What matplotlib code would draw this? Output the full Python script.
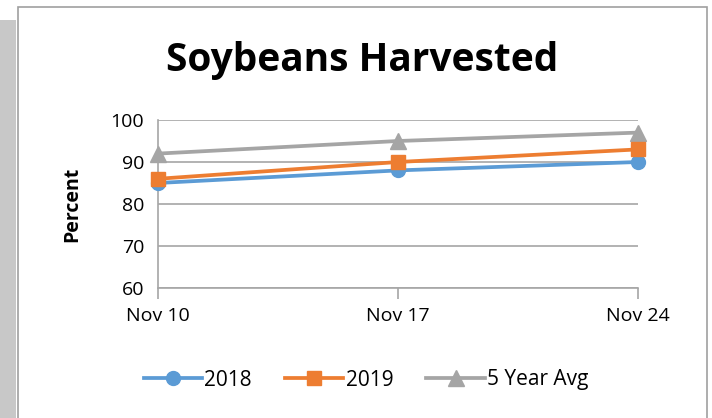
import matplotlib.pyplot as plt
from matplotlib.patches import Rectangle

weeks = ['Nov 10', 'Nov 17', 'Nov 24']
y2018 = [85, 88, 90]
y2019 = [86, 90, 93]
avg5 = [92, 95, 97]

plt.rcParams['font.family'] = ['Open Sans', 'DejaVu Sans']

fig = plt.figure(figsize=(7.12, 4.18), dpi=100)
# grey strip on the left and the chart box
fig.patches.append(Rectangle((0, 0), 16 / 712, 398 / 418, transform=fig.transFigure,
                             facecolor='#c8c8c8', edgecolor='none', zorder=-2))
fig.patches.append(Rectangle((18 / 712, -0.01), 689 / 712, 1 - 7 / 418 + 0.01, transform=fig.transFigure,
                             facecolor='white', edgecolor='#a0a0a0', linewidth=1.2, zorder=-1))

ax = fig.add_axes([158 / 712, 1 - 288 / 418, 480 / 712, 168 / 418])
ax.set_facecolor('none')
x = range(len(weeks))
ax.plot(x, y2018, color='#5B9BD5', lw=2.7, marker='o', ms=10, label='2018', clip_on=False, zorder=3)
ax.plot(x, y2019, color='#ED7D31', lw=2.7, marker='s', ms=10, label='2019', clip_on=False, zorder=4)
ax.plot(x, avg5, color='#A5A5A5', lw=2.7, marker='^', ms=11, label='5 Year Avg', clip_on=False, zorder=2)

ax.set_xlim(0, 2)
ax.set_ylim(60, 100)
ax.set_yticks([60, 70, 80, 90, 100])
ax.set_xticks(list(x))
ax.set_xticklabels(weeks)
ax.yaxis.grid(True, color='#a6a6a6', lw=1.2)
ax.set_axisbelow(True)
for s in ['top', 'right']:
    ax.spines[s].set_visible(False)
ax.spines['left'].set_color('#a6a6a6')
ax.spines['bottom'].set_color('#a6a6a6')
ax.spines['left'].set_linewidth(1.2)
ax.spines['bottom'].set_linewidth(1.2)
ax.tick_params(axis='y', length=0, pad=10, labelsize=14)
ax.tick_params(axis='x', length=8, color='#a6a6a6', width=1.2, pad=6, labelsize=14)
ax.set_ylabel('Percent', fontsize=14, fontweight='bold', labelpad=20)

fig.text(362 / 712, 1 - 60 / 418, 'Soybeans Harvested', ha='center', va='center',
         fontsize=28, fontweight='bold')

fig.legend(loc='center', bbox_to_anchor=(366 / 712, 1 - 380 / 418), ncol=3, frameon=False,
           fontsize=15, handlelength=2.8, handletextpad=0.1, columnspacing=1.6)

plt.savefig('out.png')
